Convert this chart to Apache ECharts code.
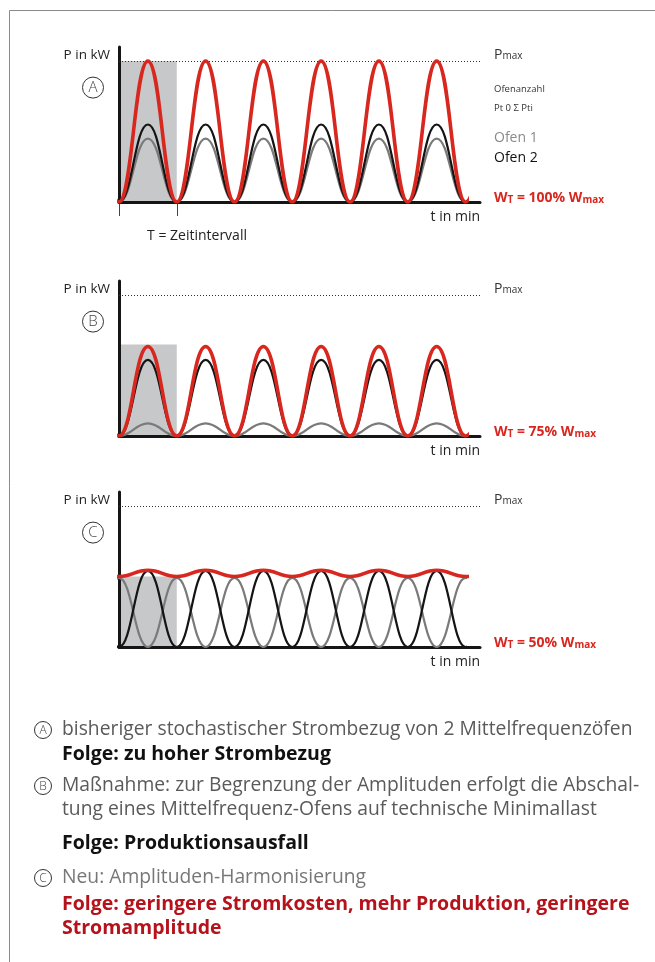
<!DOCTYPE html>
<html><head><meta charset="utf-8">
<script src="https://cdn.jsdelivr.net/npm/echarts@6/dist/echarts.min.js"></script>
<style>html,body{margin:0;padding:0;background:#fff}#c{width:655px;height:962px}</style>
</head><body><div id="c"></div>
<script>
// time axis in furnace periods, sampled at peaks and troughs (the cycle continues
// half a period beyond each end of the window; the window 0..6 is clipped)
const tHalf  = [-0.5, 0, 0.5, 1, 1.5, 2, 2.5, 3, 3.5, 4, 4.5, 5, 5.5, 6, 6.5];
// Panel A: stochastic, both furnaces in phase
const aRed   = [1.00, 0, 1.00, 0, 1.00, 0, 1.00, 0, 1.00, 0, 1.00, 0, 1.00, 0, 1.00];
const aBlack = [0.55, 0, 0.55, 0, 0.55, 0, 0.55, 0, 0.55, 0, 0.55, 0, 0.55, 0, 0.55];
const aGray  = [0.45, 0, 0.45, 0, 0.45, 0, 0.45, 0, 0.45, 0, 0.45, 0, 0.45, 0, 0.45];
// Panel B: one furnace limited to minimum load
const bRed   = [0.635, 0, 0.635, 0, 0.635, 0, 0.635, 0, 0.635, 0, 0.635, 0, 0.635, 0, 0.635];
const bBlack = [0.54, 0, 0.54, 0, 0.54, 0, 0.54, 0, 0.54, 0, 0.54, 0, 0.54, 0, 0.54];
const bGray  = [0.09, 0, 0.09, 0, 0.09, 0, 0.09, 0, 0.09, 0, 0.09, 0, 0.09, 0, 0.09];
// Panel C: harmonised, furnaces in antiphase
const cRed   = [0.545, 0.50, 0.545, 0.50, 0.545, 0.50, 0.545, 0.50, 0.545, 0.50, 0.545, 0.50, 0.545, 0.50, 0.545];
const cBlack = [0.54, 0, 0.54, 0, 0.54, 0, 0.54, 0, 0.54, 0, 0.54, 0, 0.54, 0, 0.54];
const cGray  = [0, 0.49, 0, 0.49, 0, 0.49, 0, 0.49, 0, 0.49, 0, 0.49, 0, 0.49, 0];
// shaded interval T and its level
const shadeT = [0, 1];
const shadeLevel = [1.00, 0.65, 0.50];
const pMax = 1.0;
const wLabels = ['100%', '75%', '50%'];
const panelLetters = ['A', 'B', 'C'];

const zip = (xs, ys) => xs.map((x, i) => [x, ys[i]]);
const panels = [
  {red: aRed, black: aBlack, gray: aGray, top: 47},
  {red: bRed, black: bBlack, gray: bGray, top: 281},
  {red: cRed, black: cBlack, gray: cGray, top: 492}
];
const GH = 155, YMAX = 1.1, FONT = '"Open Sans", "Noto Sans", sans-serif', SM = 0.45;
const AXW = 361, XMAX = 6.25, CW = AXW * 6 / XMAX;

const grid = [], xAxis = [], yAxis = [], series = [];
const hidden = {axisLine: {show: false}, axisTick: {show: false}, axisLabel: {show: false}, splitLine: {show: false}};
panels.forEach((p, i) => {
  const ga = i * 2, gc = i * 2 + 1;
  grid.push({left: 119, top: p.top, width: AXW, height: GH});
  grid.push({left: 119, top: p.top, width: CW, height: GH});
  xAxis.push({type: 'value', gridIndex: ga, min: 0, max: XMAX, z: 2,
    axisLine: {show: true, onZero: false, lineStyle: {color: '#151515', width: 3}},
    axisTick: {show: false}, axisLabel: {show: false}, splitLine: {show: false}});
  yAxis.push({type: 'value', gridIndex: ga, min: 0, max: YMAX, z: 2,
    axisLine: {show: true, lineStyle: {color: '#151515', width: 3}},
    axisTick: {show: false}, axisLabel: {show: false}, splitLine: {show: false}});
  xAxis.push(Object.assign({type: 'value', gridIndex: gc, min: 0, max: 6}, hidden));
  yAxis.push(Object.assign({type: 'value', gridIndex: gc, min: 0, max: YMAX}, hidden));
  series.push({type: 'line', xAxisIndex: ga, yAxisIndex: ga, z: 1,
    data: shadeT.map(x => [x, shadeLevel[i]]), symbol: 'none',
    lineStyle: {width: 0}, areaStyle: {color: '#c7c8ca', opacity: 1},
    markLine: {silent: true, symbol: 'none', label: {show: false},
      lineStyle: {type: [1, 2], color: '#333', width: 1}, data: [{yAxis: pMax}]}});
  series.push({type: 'line', xAxisIndex: gc, yAxisIndex: gc, z: 3, clip: true,
    data: zip(tHalf, p.gray), symbol: 'none', smooth: SM,
    lineStyle: {color: '#7a7a7a', width: 2.2}});
  series.push({type: 'line', xAxisIndex: gc, yAxisIndex: gc, z: 4, clip: true,
    data: zip(tHalf, p.black), symbol: 'none', smooth: SM,
    lineStyle: {color: '#141414', width: 2.2}});
  series.push({type: 'line', xAxisIndex: gc, yAxisIndex: gc, z: 5, clip: true,
    data: zip(tHalf, p.red), symbol: 'none', smooth: SM,
    lineStyle: {color: '#d8271f', width: 3.6}});
});
// interval tick marks under panel A
xAxis.push({type: 'value', gridIndex: 0, min: 0, max: XMAX, position: 'bottom', offset: 6,
  axisLine: {show: false}, axisLabel: {show: false}, splitLine: {show: false},
  axisTick: {show: true, customValues: shadeT, length: 14, lineStyle: {color: '#444', width: 1}}});
series.push({type: 'line', xAxisIndex: xAxis.length - 1, yAxisIndex: 0, data: [], symbol: 'none'});

const g = [];
const txt = (x, y, text, o) => g.push(Object.assign({type: 'text', x, y, silent: true,
  style: Object.assign({text, fill: '#222', font: '13px ' + FONT, verticalAlign: 'middle', align: 'left'}, o || {})}));
const circ = (cx, cy, r, letter, fs) => {
  g.push({type: 'circle', shape: {cx, cy, r}, silent: true, style: {fill: 'none', stroke: '#333', lineWidth: 1}});
  txt(cx, cy + 0.5, letter, {align: 'center', fill: '#444', font: '300 ' + fs + 'px ' + FONT});
};
g.push({type: 'polyline', silent: true, shape: {points: [[9.5, 962], [9.5, 10.5], [655, 10.5]]},
  style: {stroke: '#8a8a8a', lineWidth: 1, fill: 'none'}});
panels.forEach((p, i) => {
  const pmY = p.top + GH - GH / YMAX * pMax, base = p.top + GH;
  txt(110, pmY - 6, 'P in kW', {align: 'right', font: '13.5px ' + FONT});
  circ(93, pmY + 26.5, 10.5, panelLetters[i], 15);
  txt(494, pmY - 6, '{a|P}{b|max}', {rich: {a: {font: '14px ' + FONT, fill: '#333'}, b: {font: '10px ' + FONT, fill: '#333', padding: [3, 0, 0, 0]}}});
  txt(480, base + 15, 't in min', {align: 'right', font: '14px ' + FONT});
  const bf = 'bold 14px ' + FONT, sf = 'bold 10px ' + FONT;
  txt(494, base - 4, '{a|W}{b|T}{a| = ' + wLabels[i] + ' W}{b|max}',
    {rich: {a: {font: bf, fill: '#d8271f'}, b: {font: sf, fill: '#d8271f', padding: [4, 0, 0, 0]}}});
});
txt(494, 89, 'Ofenanzahl', {font: '9.5px ' + FONT, fill: '#333'});
txt(494, 108, 'Pt 0 Σ Pti', {font: '9.5px ' + FONT, fill: '#333'});
txt(494, 138, 'Ofen 1', {font: '14px ' + FONT, fill: '#8a8a8a'});
txt(494, 158, 'Ofen 2', {font: '14px ' + FONT, fill: '#111'});
txt(197, 236, 'T = Zeitintervall', {align: 'center', font: '14px ' + FONT});

const BF = '19.3px ' + FONT, BB = 'bold 19.5px ' + FONT;
circ(43, 730, 8.5, 'A', 12);
txt(62, 730, 'bisheriger stochastischer Strombezug von 2 Mittelfrequenzöfen', {font: BF, fill: '#5a5a5a'});
txt(62, 754, 'Folge: zu hoher Strombezug', {font: BB, fill: '#111'});
circ(43, 786, 8.5, 'B', 12);
txt(62, 786, 'Maßnahme: zur Begrenzung der Amplituden erfolgt die Abschal-', {font: BF, fill: '#5a5a5a'});
txt(62, 810, 'tung eines Mittelfrequenz-Ofens auf technische Minimallast', {font: BF, fill: '#5a5a5a'});
txt(62, 843, 'Folge: Produktionsausfall', {font: BB, fill: '#111'});
circ(43, 878, 8.5, 'C', 12);
txt(62, 878, 'Neu: Amplituden-Harmonisierung', {font: BF, fill: '#777'});
txt(62, 904, 'Folge: geringere Stromkosten, mehr Produktion, geringere', {font: BB, fill: '#b5121b'});
txt(62, 928, 'Stromamplitude', {font: BB, fill: '#b5121b'});

const chart = echarts.init(document.getElementById('c'));
chart.setOption({animation: false, backgroundColor: '#fff', grid, xAxis, yAxis, series, graphic: g});
</script></body></html>
